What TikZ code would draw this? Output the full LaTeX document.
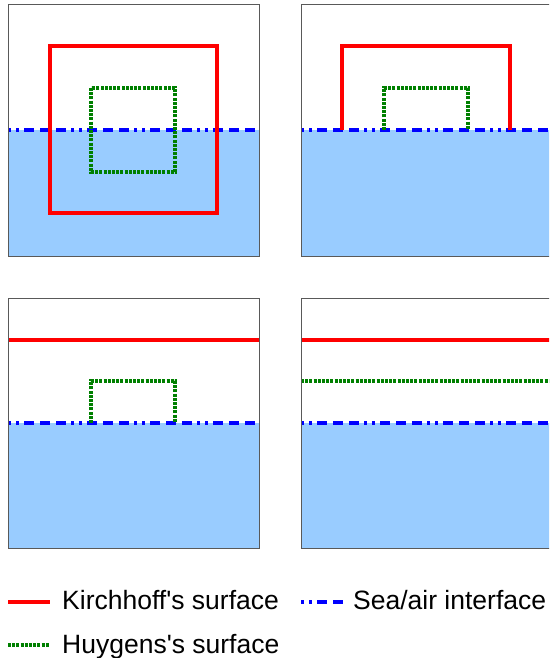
\documentclass[tikz,border=0pt]{standalone}
\usepackage{fontspec}
\setmainfont{Liberation Sans}
\definecolor{seablue}{HTML}{99CCFF}
\definecolor{huygreen}{HTML}{008000}

\begin{document}
\begin{tikzpicture}[x=1pt,y=-1pt,
    kirch/.style={red,line width=4pt},
    huyg/.style={huygreen,line width=4pt,dash pattern=on 3pt off 1.2pt},
    sea/.style={blue,line width=4pt,dash pattern=on 3pt off 5pt on 3pt off 5pt on 10pt off 6pt on 10pt off 6pt on 10pt off 5pt},
    panel/.style={draw=black!65,line width=1pt},
    legtext/.style={anchor=base west,inner sep=0pt,font=\fontsize{26.5}{30}\selectfont}]
    \useasboundingbox (0,0) rectangle (549,658);
    \clip (0,0) rectangle (549,658);

    % top left: closed surfaces
    \fill[seablue] (8,130) rectangle (259,256);
    \draw[sea] (8,130) -- (259,130);
    \draw[huyg] (91,88) rectangle (175,172);
    \draw[kirch] (50,46) rectangle (217,213);
    \draw[panel] (8,5) rectangle (259,256);

    % top right: open surfaces on the sea
    \fill[seablue] (301,130) rectangle (552,256);
    \draw[sea] (301,130) -- (552,130);
    \draw[huyg] (384,130) -- (384,88) -- (468,88) -- (468,130);
    \draw[kirch] (342,130) -- (342,46) -- (510,46) -- (510,130);
    \draw[panel] (301,5) rectangle (552,256);

    % bottom left
    \fill[seablue] (8,423) rectangle (259,548);
    \draw[sea] (8,423) -- (259,423);
    \draw[huyg] (91,423) -- (91,381) -- (175,381) -- (175,423);
    \draw[kirch] (8,340) -- (259,340);
    \draw[panel] (8,298) rectangle (259,548);

    % bottom right
    \fill[seablue] (301,423) rectangle (552,548);
    \draw[sea] (301,423) -- (552,423);
    \draw[huyg] (301,381) -- (552,381);
    \draw[kirch] (301,340) -- (552,340);
    \draw[panel] (301,298) rectangle (552,548);

    % legend
    \coordinate (kirchA) at (8,602);
    \coordinate (kirchB) at (50,602);
    \coordinate (seaA) at (301,602);
    \coordinate (seaB) at (343,602);
    \coordinate (huygA) at (8,645);
    \coordinate (huygB) at (49,645);
    \draw[kirch] (kirchA) -- (kirchB);
    \draw[sea] (seaA) -- (seaB);
    \draw[huyg] (huygA) -- (huygB);
    \node[legtext] (kirchtxt) at (62,609) {Kirchhoff\textquotesingle s surface};
    \node[legtext] (seatxt) at (353,609) {Sea/air interface};
    \node[legtext] (huygtxt) at (62,653) {Huygens\textquotesingle s surface};
\end{tikzpicture}
\end{document}
